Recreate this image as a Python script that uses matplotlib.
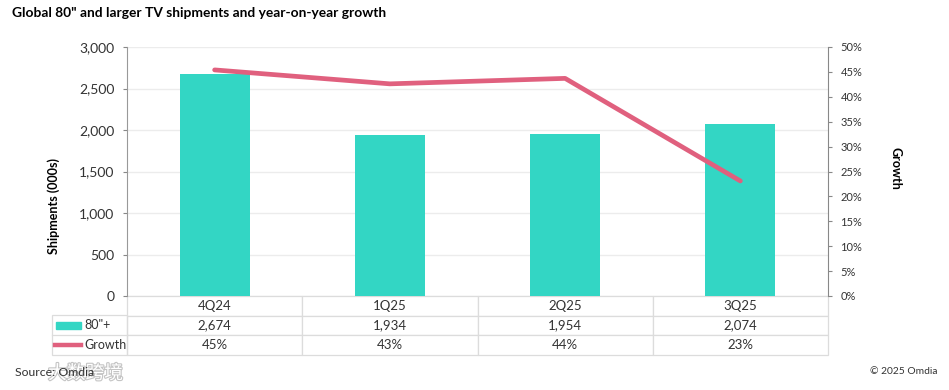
import matplotlib
matplotlib.use("Agg")
import matplotlib.pyplot as plt
import matplotlib.patheffects as pe
from matplotlib.lines import Line2D
from matplotlib.patches import Rectangle

plt.rcParams['font.family'] = ['Lato', 'Noto Sans CJK SC', 'DejaVu Sans']

quarters = ["4Q24", "1Q25", "2Q25", "3Q25"]
shipments = [2674, 1934, 1954, 2074]
growth = [45.4, 42.6, 43.7, 23.1]
ship_labels = ["2,674", "1,934", "1,954", "2,074"]
growth_labels = ["45%", "43%", "44%", "23%"]
row_names = ['80"+', "Growth"]

W, H = 949, 390
TEAL = "#33d6c4"
PINK = "#e0607e"
GRID = "#ececec"
TXT = "#333333"
EDGE = "#dcdcdc"

fig = plt.figure(figsize=(W / 100, H / 100), dpi=100)
ax = fig.add_axes([127 / W, 1 - 296 / H, 701 / W, 249 / H])
x = range(len(quarters))
ax.bar(x, shipments, width=0.4, color=TEAL, zorder=2)
ax.set_xlim(-0.5, 3.5)
ax.set_ylim(0, 3000)
ax.set_yticks(range(0, 3001, 500))
ax.set_yticklabels([f"{v:,}" for v in range(0, 3001, 500)], fontsize=10, color=TXT)
ax.set_xticks([])
ax.grid(axis="y", color=GRID, lw=1, zorder=0)
ax.set_axisbelow(True)
ax.tick_params(axis="y", length=3, color="#888888", pad=6)
for s in ["top", "right", "bottom"]:
    ax.spines[s].set_visible(False)
ax.spines["left"].set_color("#999999")
ax.set_ylabel("Shipments (000s)", fontsize=9, fontweight="bold", color="black")
ax.yaxis.set_label_coords((60 - 127) / 701, (296 - 206) / 249)

ax2 = ax.twinx()
ax2.plot(x, growth, color=PINK, lw=3.4, solid_capstyle="round", zorder=3)
ax2.set_ylim(0, 50)
ax2.set_yticks(range(0, 51, 5))
ax2.set_yticklabels([f"{v}%" for v in range(0, 51, 5)], fontsize=8, color=TXT)
ax2.tick_params(axis="y", length=3, color="#888888", pad=6)
for s in ["top", "left", "bottom"]:
    ax2.spines[s].set_visible(False)
ax2.spines["right"].set_color("#888888")
ax2.set_ylabel("Growth", fontsize=9, fontweight="bold", color="black", rotation=270, va="center")
ax2.yaxis.set_label_coords((895 - 127) / 701, (296 - 168) / 249)

# data table under the plot
tab = ax.table(cellText=[ship_labels, growth_labels], colLabels=quarters,
               cellLoc="center", bbox=[0, -59 / 249, 1, 59 / 249])
tab.auto_set_font_size(False)
tab.set_fontsize(9.5)
for key, cell in tab.get_celld().items():
    cell.set_edgecolor(EDGE)
    cell.set_linewidth(0.9)
    cell.get_text().set_color(TXT)

# legend keys column left of the table
fig.add_artist(Rectangle((52 / W, 1 - 355 / H), 75 / W, 40 / H, facecolor="none", edgecolor=EDGE,
                         lw=0.9, transform=fig.transFigure))
fig.add_artist(Line2D([52 / W, 127 / W], [1 - 335 / H] * 2, color=EDGE, lw=0.9, transform=fig.transFigure))
fig.add_artist(Rectangle((56 / W, 1 - 329 / H), 25 / W, 7 / H, color=TEAL, transform=fig.transFigure))
fig.add_artist(Line2D([55 / W, 81 / W], [1 - 345 / H] * 2, color=PINK, lw=3.2, transform=fig.transFigure))
fig.text(84 / W, 1 - 325 / H, row_names[0], fontsize=9, va="center", color=TXT)
fig.text(84 / W, 1 - 345 / H, row_names[1], fontsize=9, va="center", color=TXT)

fig.text(12 / W, 1 - 13 / H, 'Global 80" and larger TV shipments and year-on-year growth',
         fontsize=9.9, fontweight="bold", va="center", color="black")
fig.text(937 / W, 1 - 371 / H, "© 2025 Omdia", fontsize=7.4, ha="right", va="center", color=TXT)

# watermark sitting over the source note
fig.text(48 / W, 1 - 373 / H, "大数跨境", fontsize=13.5, va="center", color="white",
         path_effects=[pe.withStroke(linewidth=1.6, foreground="#c4c4c4")])
fig.text(15 / W, 1 - 372 / H, "Source: Omdia", fontsize=8.8, va="center", color=TXT)

fig.savefig("out.png", dpi=100)
